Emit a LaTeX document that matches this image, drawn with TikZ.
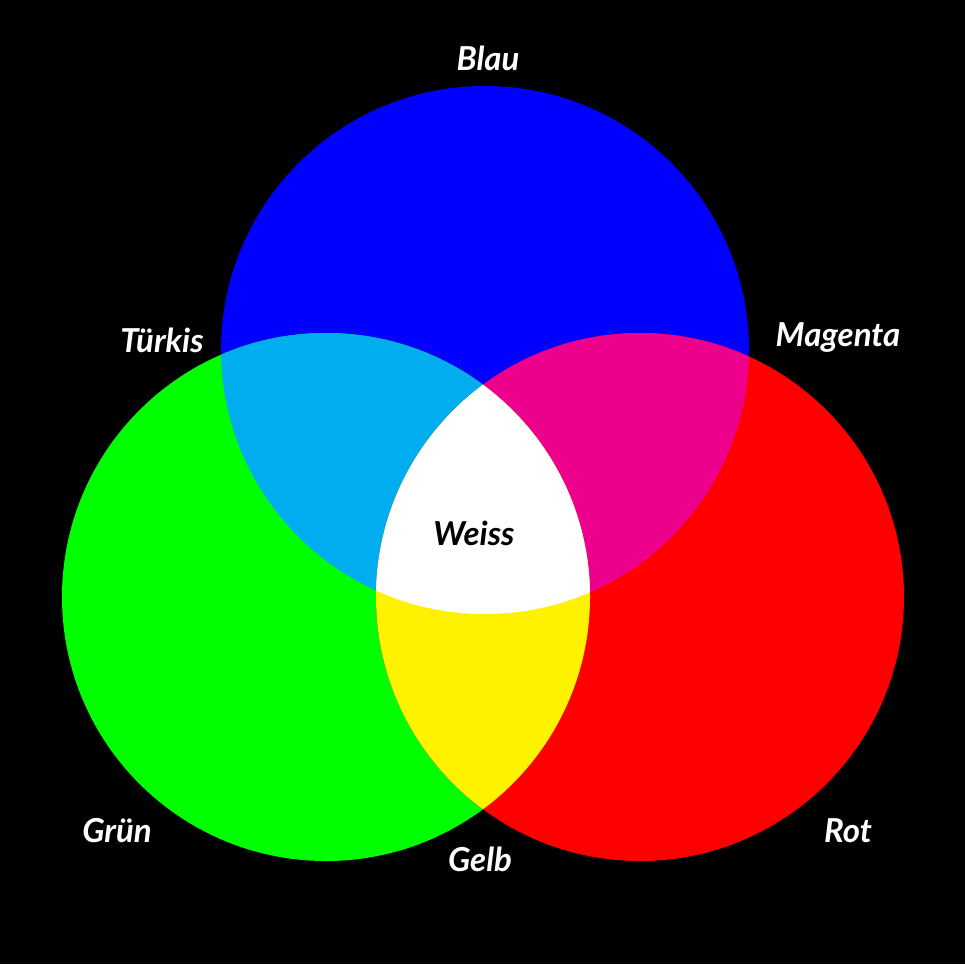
\documentclass[tikz,border=0pt]{standalone}
\usepackage{fontspec}
\setmainfont{Lato}
\begin{document}
\begin{tikzpicture}[x=1pt,y=-1pt,lbl/.style={text=white,font=\fontsize{33}{36}\selectfont\bfseries\itshape,inner sep=0pt}]
\useasboundingbox[fill=black] (0,0) rectangle (965,964);
\def\B{(485,350) circle[radius=264]}
\def\G{(326,597) circle[radius=264]}
\def\R{(640,597) circle[radius=264]}
\fill[blue] \B; \fill[green] \G; \fill[red] \R;
\begin{scope}\clip \B; \fill[cyan] \G; \end{scope}
\begin{scope}\clip \B; \fill[magenta] \R; \end{scope}
\begin{scope}\clip \G; \fill[yellow] \R; \end{scope}
\begin{scope}\clip \B; \clip \G; \fill[white] \R; \end{scope}
\node[lbl] (blau) at (488,58) {Blau};
\node[lbl] (tuerkis) at (162,340) {Türkis};
\node[lbl] (magenta) at (838,338) {Magenta};
\node[lbl,text=black] (weiss) at (474,533) {Weiss};
\node[lbl] (gruen) at (117,831) {Grün};
\node[lbl] (gelb) at (480,859) {Gelb};
\node[lbl] (rot) at (848,831) {Rot};
\end{tikzpicture}
\end{document}
